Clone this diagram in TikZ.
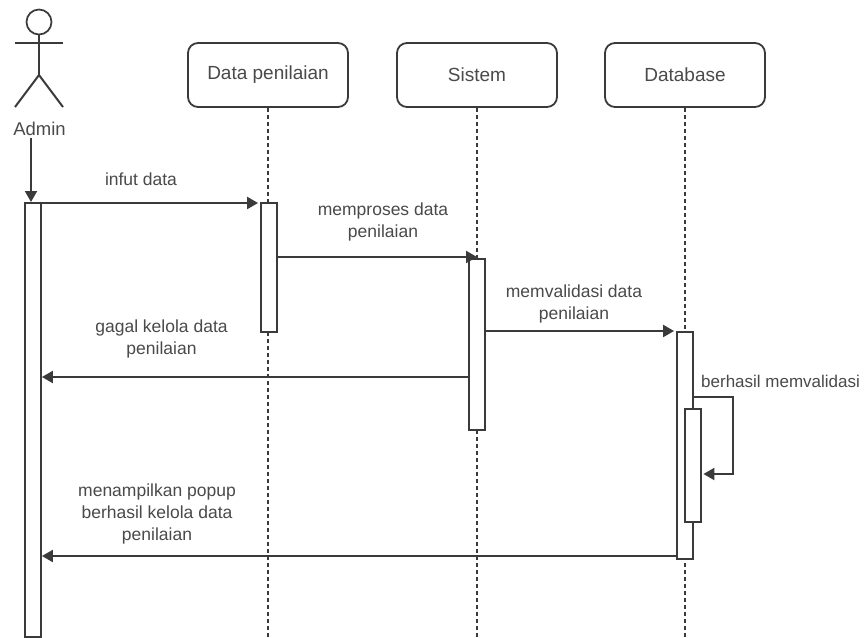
\documentclass[tikz,border=0pt]{standalone}
\usepackage{fontspec}
\setmainfont{Liberation Sans}
\usetikzlibrary{arrows.meta,positioning}
\definecolor{ink}{HTML}{3A3A3A}
\definecolor{txt}{HTML}{4A4A4A}
\tikzset{
  x=1pt,y=-1pt,
  lbl/.style={text=txt,font=\fontsize{17.5}{22}\selectfont,align=center,inner sep=0pt},
  headbox/.style={draw=ink,line width=1.8pt,rounded corners=10pt,fill=white,minimum width=160pt,minimum height=64pt,text=txt,font=\fontsize{19}{23}\selectfont,inner sep=0pt},
  bar/.style={draw=ink,line width=1.8pt,fill=white,minimum width=16pt,inner sep=0pt},
  life/.style={draw=ink,line width=1.5pt,dash pattern=on 4pt off 3pt},
  msg/.style={draw=ink,line width=2pt,-{Triangle[length=11pt,width=12pt]}},
  actorline/.style={draw=ink,line width=2pt}
}
\begin{document}
\begin{tikzpicture}
\useasboundingbox (0,0) rectangle (867,637);
\fill[white] (0,0) rectangle (867,637);
% lifelines
\node[headbox] (dp) at (268,75) {Data penilaian};
\node[headbox] (si) at (477,75) {Sistem};
\node[headbox] (db) at (685,75) {Database};
\coordinate (dpend) at (268,637);
\coordinate (siend) at (477,637);
\coordinate (dbend) at (685,637);
\draw[life] (dp.south) -- (dpend);
\draw[life] (si.south) -- (siend);
\draw[life] (db.south) -- (dbend);
% actor
\node[draw=ink,line width=1.7pt,circle,minimum size=25pt,inner sep=0pt] (head) at (39,22) {};
\coordinate (neck) at (39,75);
\coordinate (armL) at (15,43);
\coordinate (armR) at (63,43);
\coordinate (legL) at (15,107);
\coordinate (legR) at (63,107);
\draw[actorline] (head.south) -- (neck);
\draw[actorline] (armL) -- (armR);
\draw[actorline] (legL) -- (neck) -- (legR);
\node[lbl,font=\fontsize{18.5}{22}\selectfont] (adm) at (39.5,129) {Admin};
% bars
\node[bar,anchor=north,minimum height=434pt] (ba) at (33,202) {};
\node[bar,anchor=north,minimum height=129pt] (bd) at (269,202) {};
\node[bar,anchor=north,minimum height=171pt] (bs) at (477,258) {};
\node[bar,anchor=north,minimum height=227pt] (bb) at (685,331) {};
\node[bar,anchor=north,minimum height=113pt] (bv) at (693,408) {};
% messages
\coordinate (a0) at (31,138);
\coordinate (a1) at (31,202);
\draw[msg] (a0) -- (a1);
\draw[msg,shorten >=2pt] (ba.east |- 0,203) -- (bd.west |- 0,203);
\draw[msg] (bd.east |- 0,257) -- (si.south |- 0,257);
\draw[msg,shorten >=2pt] (bs.east |- 0,331) -- (bb.west |- 0,331);
\coordinate (r1) at (732.5,397);
\coordinate (r2) at (732.5,474);
\draw[msg,shorten >=1.5pt] (bb.east |- r1) -- (r1) -- (r2) -- (bv.east |- r2);
\draw[msg] (bs.west |- 0,377) -- (ba.east |- 0,377);
\draw[msg] (bb.west |- 0,556) -- (ba.east |- 0,556);
% labels
\node[lbl] (l1) at (141,179) {infut data};
\node[lbl] (l2) at (383,221.5) {memproses data\\penilaian};
\node[lbl] (l3) at (574,303.5) {memvalidasi data\\penilaian};
\node[lbl] (l4) at (161.5,339) {gagal kelola data\\penilaian\hspace{19pt}};
\node[lbl,anchor=west,font=\fontsize{17}{21}\selectfont] (l5) at (701,381) {berhasil memvalidasi};
\node[lbl] (l6) at (157,513.5) {menampilkan popup\\berhasil kelola data\\penilaian};
\end{tikzpicture}
\end{document}
